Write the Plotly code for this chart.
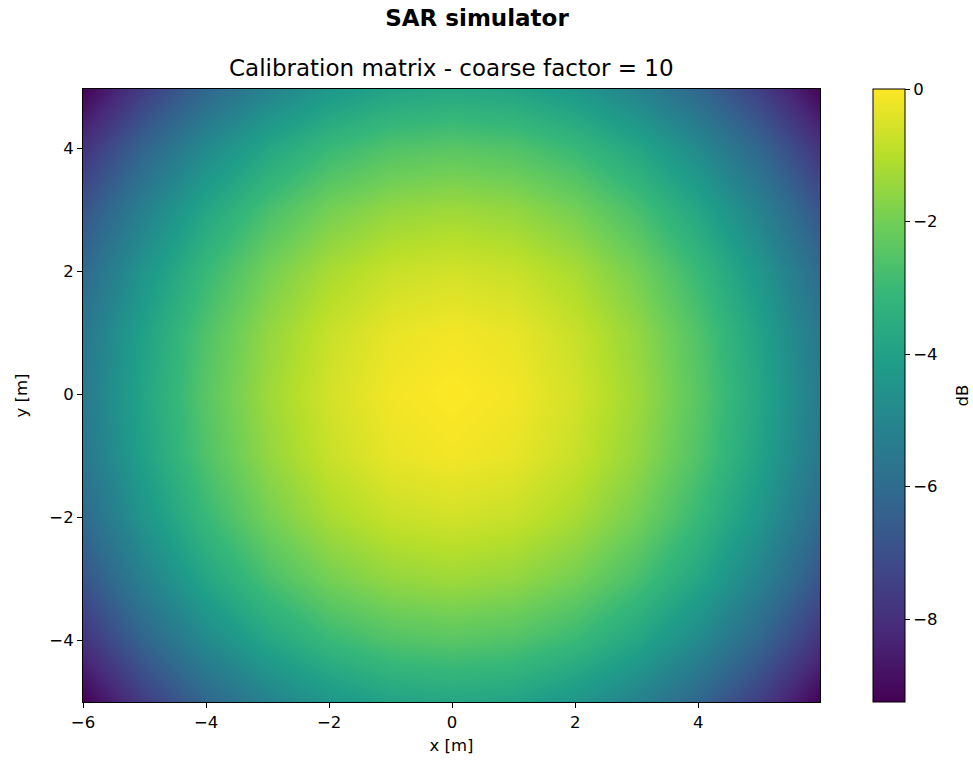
import plotly.graph_objects as go

# Sample positions of the calibration matrix (metres)
x_m = [-6, -5, -4, -3, -2, -1, 0, 1, 2, 3, 4, 5, 6]
y_m = [-5, -4, -3, -2, -1, 0, 1, 2, 3, 4, 5]

# Calibration gain in dB, one row per y sample (bottom to top)
gain_db = [
    [-9.25, -7.58, -6.22, -5.16, -4.40, -3.94, -3.79, -3.94, -4.40, -5.16, -6.22, -7.58, -9.25],
    [-7.89, -6.22, -4.85, -3.79, -3.03, -2.58, -2.43, -2.58, -3.03, -3.79, -4.85, -6.22, -7.89],
    [-6.82, -5.16, -3.79, -2.73, -1.97, -1.52, -1.36, -1.52, -1.97, -2.73, -3.79, -5.16, -6.82],
    [-6.07, -4.40, -3.03, -1.97, -1.21, -0.76, -0.61, -0.76, -1.21, -1.97, -3.03, -4.40, -6.07],
    [-5.61, -3.94, -2.58, -1.52, -0.76, -0.30, -0.15, -0.30, -0.76, -1.52, -2.58, -3.94, -5.61],
    [-5.46, -3.79, -2.43, -1.36, -0.61, -0.15, 0.00, -0.15, -0.61, -1.36, -2.43, -3.79, -5.46],
    [-5.61, -3.94, -2.58, -1.52, -0.76, -0.30, -0.15, -0.30, -0.76, -1.52, -2.58, -3.94, -5.61],
    [-6.07, -4.40, -3.03, -1.97, -1.21, -0.76, -0.61, -0.76, -1.21, -1.97, -3.03, -4.40, -6.07],
    [-6.82, -5.16, -3.79, -2.73, -1.97, -1.52, -1.36, -1.52, -1.97, -2.73, -3.79, -5.16, -6.82],
    [-7.89, -6.22, -4.85, -3.79, -3.03, -2.58, -2.43, -2.58, -3.03, -3.79, -4.85, -6.22, -7.89],
    [-9.25, -7.58, -6.22, -5.16, -4.40, -3.94, -3.79, -3.94, -4.40, -5.16, -6.22, -7.58, -9.25],
]

x_ticks = [-6, -4, -2, 0, 2, 4]
y_ticks = [-4, -2, 0, 2, 4]
cbar_ticks = [0, -2, -4, -6, -8]

FONT = "DejaVu Sans"
TICK_SIZE = 16.5

fig = go.Figure(
    go.Heatmap(
        x=x_m,
        y=y_m,
        z=gain_db,
        zmin=-9.25,
        zmax=0,
        zsmooth="best",
        colorscale="Viridis",
        colorbar=dict(
            x=1.0719,
            xanchor="left",
            xpad=0,
            y=0.5,
            yanchor="middle",
            ypad=0,
            len=1,
            lenmode="fraction",
            thickness=32,
            thicknessmode="pixels",
            outlinecolor="black",
            outlinewidth=1,
            ticks="outside",
            ticklen=5,
            tickwidth=1,
            tickcolor="black",
            tickvals=cbar_ticks,
            tickfont=dict(family=FONT, size=TICK_SIZE, color="black"),
        ),
    )
)

axis_common = dict(
    showgrid=False,
    zeroline=False,
    showline=True,
    linecolor="black",
    linewidth=1,
    mirror=True,
    ticks="outside",
    ticklen=5,
    tickwidth=1,
    tickcolor="black",
    tickfont=dict(family=FONT, size=TICK_SIZE, color="black"),
)

fig.update_layout(
    width=973,
    height=765,
    margin=dict(l=83, r=153, t=89, b=63, pad=0),
    paper_bgcolor="white",
    plot_bgcolor="white",
    font=dict(family=FONT, color="black"),
    title=dict(
        text="<b>SAR simulator</b>",
        x=477 / 973,
        xref="container",
        xanchor="center",
        y=1 - 18 / 765,
        yref="container",
        yanchor="middle",
        font=dict(family=FONT, size=23, color="black"),
    ),
    annotations=[
        dict(
            text="Calibration matrix - coarse factor = 10",
            x=0.5,
            xref="paper",
            xanchor="center",
            y=1 + (89 - 68) / 613,
            yref="paper",
            yanchor="middle",
            showarrow=False,
            font=dict(family=FONT, size=23, color="black"),
        ),
        # colour bar label
        dict(
            text="dB",
            x=(962 - 83) / 737,
            xref="paper",
            xanchor="center",
            y=0.5,
            yref="paper",
            yanchor="middle",
            textangle=-90,
            showarrow=False,
            font=dict(family=FONT, size=TICK_SIZE, color="black"),
        ),
    ],
    xaxis=dict(
        range=[-6, 5.98],
        tickvals=x_ticks,
        title=dict(text="x [m]", standoff=8,
                   font=dict(family=FONT, size=TICK_SIZE, color="black")),
        **axis_common,
    ),
    yaxis=dict(
        range=[-5, 4.96],
        tickvals=y_ticks,
        title=dict(text="y [m]", standoff=17,
                   font=dict(family=FONT, size=TICK_SIZE, color="black")),
        **axis_common,
    ),
)

fig.write_html("out.html")
